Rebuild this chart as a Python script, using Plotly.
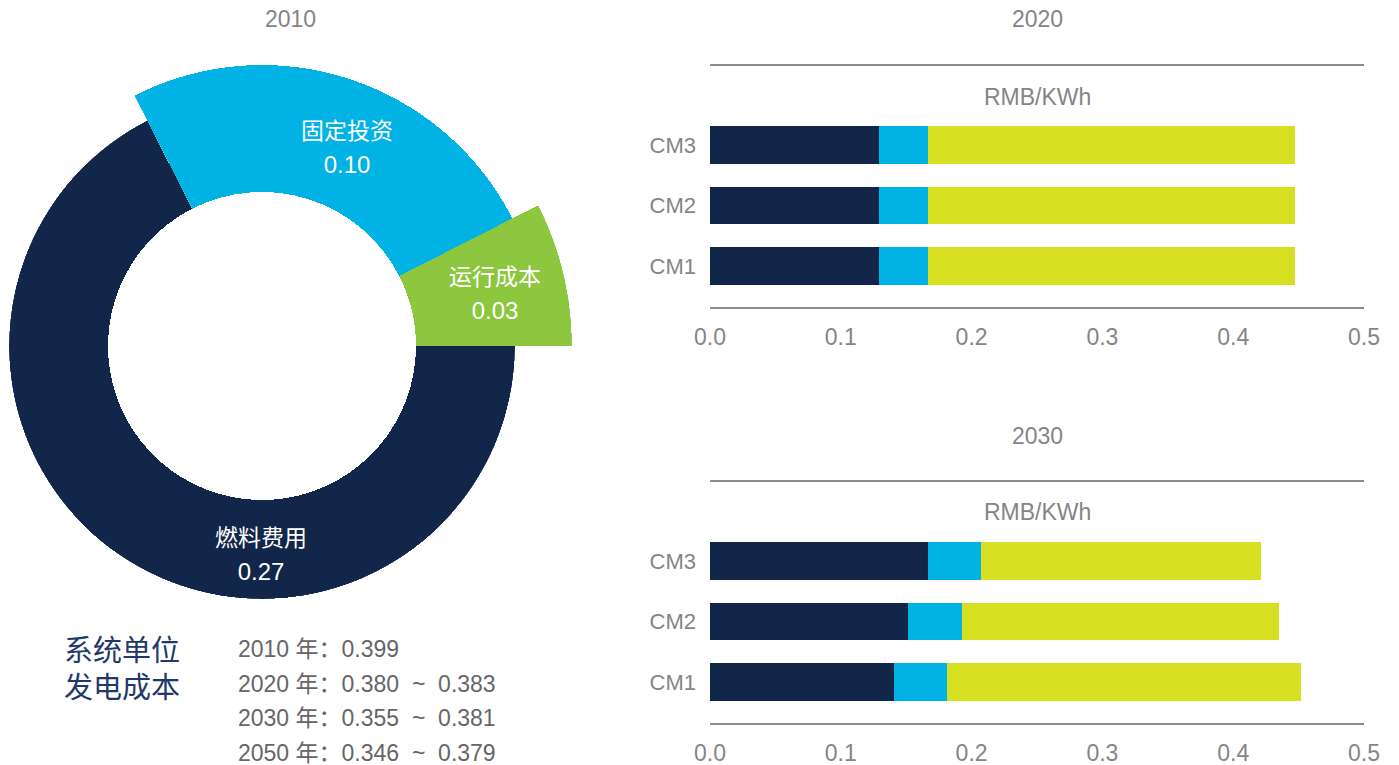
import math
import plotly.graph_objects as go

# ---- data -------------------------------------------------------------
donut_title = "2010"
donut_labels = ["运行成本", "固定投资", "燃料费用"]
donut_values = [0.03, 0.10, 0.27]

bar_categories = ["CM1", "CM2", "CM3"]
bar_panels = ["2020", "2030"]
# three stacked components per category (left to right)
seg1_2020 = [0.129, 0.129, 0.129]
seg2_2020 = [0.038, 0.038, 0.038]
seg3_2020 = [0.280, 0.280, 0.280]
seg1_2030 = [0.141, 0.151, 0.167]
seg2_2030 = [0.040, 0.042, 0.040]
seg3_2030 = [0.271, 0.242, 0.214]
x_ticks = [0.0, 0.1, 0.2, 0.3, 0.4, 0.5]
unit_label = "RMB/KWh"

summary_title = ["系统单位", "发电成本"]
summary_years = ["2010", "2020", "2030", "2050"]
summary_low = ["0.399", "0.380", "0.355", "0.346"]
summary_high = [None, "0.383", "0.381", "0.379"]

# ---- style ------------------------------------------------------------
W, H = 1399, 765
FONT = "Liberation Sans, Noto Sans CJK SC, sans-serif"
NAVY = "#12264a"
CYAN = "#00b3e4"
GREEN = "#8dc63f"
YELLOW = "#d6e021"
GRAY = "#858585"
DGRAY = "#666666"
TITLE_NAVY = "#22386a"
NBSP = "\u00a0"

donut_colors = [GREEN, CYAN, NAVY]
seg_colors = [NAVY, CYAN, YELLOW]

# donut geometry (px): centre, ring inner radius, outer radius per slice
CX, CY = 262, 346
R_IN = 154
slice_outer = [310, 281, 253]
# the two raised slices live in a partial-sector polar subplot,
# the base ring slice in a full-circle one
slice_subplot = ["polar2", "polar2", "polar"]
# label block centres as (dx, dy) offsets from the donut centre, y up
label_offsets = [(233, 50), (85, 196), (-1, -211)]
LINE_HALF = 17


def px_x(x):
    return x / W


def px_y(y):
    return 1 - y / H


def sector_domain(a0, a1, radius):
    """Paper-domain box for a polar sector [a0, a1] of a given px radius."""
    angles = [a0, a1] + [a for a in range(0, 721, 90) if a0 <= a <= a1]
    cs = [math.cos(math.radians(a)) for a in angles]
    ss = [math.sin(math.radians(a)) for a in angles]
    x0, x1 = CX + radius * min(cs), CX + radius * max(cs)
    ytop, ybot = CY - radius * max(ss), CY - radius * min(ss)
    return dict(x=[px_x(x0), px_x(x1)], y=[px_y(ybot), px_y(ytop)])


fig = go.Figure()

# ---- donut (barpolar slices with individual outer radius) ---------------
total = sum(donut_values)
widths = [v / total * 360 for v in donut_values]
starts, centers = [], []
acc = 0.0
for w in widths:
    starts.append(acc)
    centers.append(acc + w / 2)
    acc += w


def to_polar(dx, dy):
    return math.hypot(dx, dy), math.degrees(math.atan2(dy, dx)) % 360


for sp in ["polar", "polar2"]:
    idx = [i for i, s in enumerate(slice_subplot) if s == sp]
    fig.add_trace(go.Barpolar(
        theta=[centers[i] for i in idx],
        width=[widths[i] for i in idx],
        base=[R_IN] * len(idx),
        r=[slice_outer[i] - R_IN for i in idx],
        marker=dict(color=[donut_colors[i] for i in idx], line=dict(width=0)),
        hovertext=[f"{donut_labels[i]} {donut_values[i]:.2f}" for i in idx],
        hoverinfo="text",
        subplot=sp,
        showlegend=False,
    ))
    name_r, name_t, val_r, val_t = [], [], [], []
    for i in idx:
        dx, dy = label_offsets[i]
        r1, t1 = to_polar(dx, dy + LINE_HALF)
        r2, t2 = to_polar(dx, dy - LINE_HALF)
        name_r.append(r1)
        name_t.append(t1)
        val_r.append(r2)
        val_t.append(t2)
    fig.add_trace(go.Scatterpolar(
        r=name_r, theta=name_t, mode="text",
        text=[donut_labels[i] for i in idx],
        textposition="middle center",
        textfont=dict(family=FONT, size=23, color="white"),
        hoverinfo="skip", showlegend=False, subplot=sp,
    ))
    fig.add_trace(go.Scatterpolar(
        r=val_r, theta=val_t, mode="text",
        text=[f"{donut_values[i]:.2f}" for i in idx],
        textposition="middle center",
        textfont=dict(family=FONT, size=24, color="white"),
        hoverinfo="skip", showlegend=False, subplot=sp,
    ))

# ---- stacked bars -------------------------------------------------------
panel_data = [
    [seg1_2020, seg2_2020, seg3_2020],
    [seg1_2030, seg2_2030, seg3_2030],
]
for pi, segs in enumerate(panel_data):
    xa = "x" if pi == 0 else "x2"
    ya = "y" if pi == 0 else "y2"
    for si, vals in enumerate(segs):
        fig.add_trace(go.Bar(
            y=bar_categories, x=vals, orientation="h",
            marker=dict(color=seg_colors[si], line=dict(width=0)),
            xaxis=xa, yaxis=ya, showlegend=False,
            hovertemplate="%{y}: %{x:.3f}<extra></extra>",
        ))

# panel frame positions (px)
X0, X1 = 710, 1364
panel_tops = [66, 482]
panel_bottoms = [307, 723]

xaxis_style = dict(
    range=[0, 0.5], tickvals=x_ticks, tickformat=".1f",
    showline=True, mirror=True, linecolor="#8c8c8c", linewidth=2,
    showgrid=False, zeroline=False, ticks="",
    tickfont=dict(family=FONT, size=23, color=GRAY),
    ticklabelstandoff=8, fixedrange=True, automargin=False,
)
yaxis_style = dict(
    range=[-0.678, 3.306], showline=False, showgrid=False, zeroline=False,
    ticks="", tickfont=dict(family=FONT, size=22, color=GRAY),
    ticklabelstandoff=13, fixedrange=True, automargin=False,
)

# full ring for the base slice, partial sector for the raised slices
raised_end = starts[1] + widths[1]
polar_common = dict(
    angularaxis=dict(visible=False, direction="counterclockwise", rotation=0),
    bgcolor="rgba(0,0,0,0)",
)
layout = dict(
    width=W, height=H, autosize=False,
    margin=dict(l=0, r=0, t=0, b=0, pad=0, autoexpand=False),
    paper_bgcolor="white", plot_bgcolor="white",
    barmode="stack", bargap=0.372,
    font=dict(family=FONT, color=GRAY),
    polar=dict(
        polar_common,
        domain=sector_domain(0, 360, slice_outer[2]),
        radialaxis=dict(range=[0, slice_outer[2]], visible=False),
    ),
    polar2=dict(
        polar_common,
        sector=[0, raised_end],
        domain=sector_domain(0, raised_end, slice_outer[0]),
        radialaxis=dict(range=[0, slice_outer[0]], visible=False),
    ),
)
for pi in range(2):
    sx = "" if pi == 0 else "2"
    layout["xaxis" + sx] = dict(
        xaxis_style, domain=[px_x(X0), px_x(X1)], anchor="y" + sx)
    layout["yaxis" + sx] = dict(
        yaxis_style,
        domain=[px_y(panel_bottoms[pi]), px_y(panel_tops[pi])],
        anchor="x" + sx)
fig.update_layout(**layout)

# ---- text ---------------------------------------------------------------
ann = []


def add_text(text, x, y, size, color, xanchor="center"):
    ann.append(dict(text=text, x=px_x(x), y=px_y(y), xref="paper",
                    yref="paper", xanchor=xanchor, yanchor="middle",
                    showarrow=False,
                    font=dict(family=FONT, size=size, color=color)))


add_text(donut_title, 290, 19, 23, GRAY)
panel_title_y = [19, 436]
unit_y = [97, 512]
mid_x = (X0 + X1) / 2
for pi, name in enumerate(bar_panels):
    add_text(name, mid_x, panel_title_y[pi], 23, GRAY)
    add_text(unit_label, mid_x, unit_y[pi], 23, GRAY)

for i, line in enumerate(summary_title):
    add_text(line, 62, 651 + i * 37, 29, TITLE_NAVY, xanchor="left")

for i, yr in enumerate(summary_years):
    txt = f"{yr} 年：{summary_low[i]}"
    if summary_high[i]:
        txt += f"{NBSP}{NBSP}~{NBSP}{NBSP}{summary_high[i]}"
    add_text(txt, 236, 649 + i * 34.5, 23, DGRAY, xanchor="left")

fig.update_layout(annotations=ann)

fig.write_html("out.html")
